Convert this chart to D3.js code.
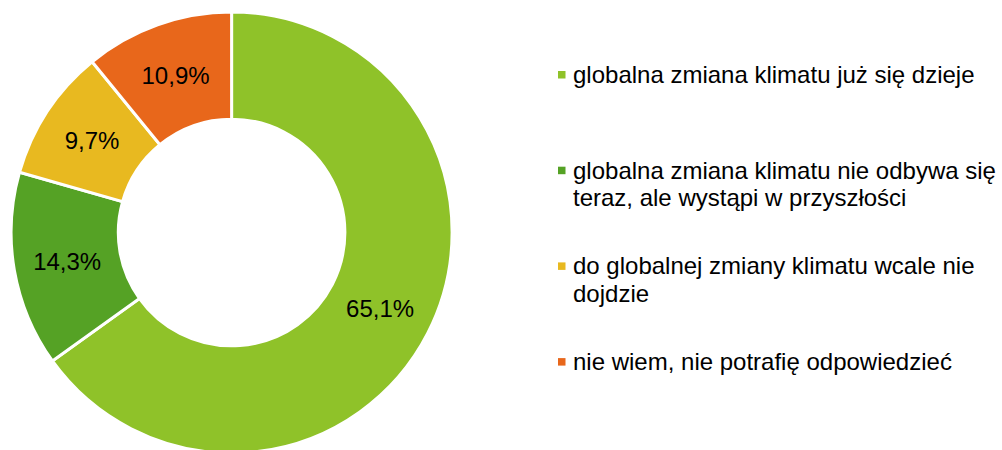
<!DOCTYPE html>
<html>
<head>
<meta charset="utf-8">
<script src="https://cdn.jsdelivr.net/npm/d3@7"></script>
<style>
  html, body { margin: 0; padding: 0; background: #fff; }
  svg { display: block; }
  text { font-family: "Liberation Sans", Arial, sans-serif; fill: #000; }
</style>
</head>
<body>
<div id="chart"></div>
<script>
// --- Data ---
const categories = [
    "globalna zmiana klimatu już się dzieje",
    "globalna zmiana klimatu nie odbywa się teraz, ale wystąpi w przyszłości",
    "do globalnej zmiany klimatu wcale nie dojdzie",
    "nie wiem, nie potrafię odpowiedzieć"
];
const values = [65.1, 14.3, 9.7, 10.9];
const colors = ["#8fc229", "#55a225", "#e8b920", "#e8671b"];

const width = 1002, height = 450;
const cx = 231.6, cy = 232.5;
const outerR = 220.5, innerR = 113.3;

const svg = d3.select("#chart").append("svg")
    .attr("width", width)
    .attr("height", height);

// --- Donut ---
const pie = d3.pie().sort(null).value(d => d)(values);
const arc = d3.arc().innerRadius(innerR).outerRadius(outerR);

const g = svg.append("g").attr("transform", `translate(${cx},${cy})`);

g.selectAll("path.slice")
    .data(pie)
    .enter().append("path")
    .attr("class", "slice")
    .attr("d", arc)
    .attr("fill", (d, i) => colors[i])
    .attr("stroke", "#fff")
    .attr("stroke-width", 3)
    .attr("stroke-linejoin", "miter");

const fmt = v => d3.format(".1f")(v).replace(".", ",") + "%";

g.selectAll("text.lbl")
    .data(pie)
    .enter().append("text")
    .attr("class", "lbl")
    .attr("transform", d => `translate(${arc.centroid(d)})`)
    .attr("text-anchor", "middle")
    .attr("dy", "0.35em")
    .style("font-size", "24px")
    .text(d => fmt(d.data));

// --- Legend ---
const legendX = 573, legendY0 = 83, itemStep = 95.7, lineH = 27.6, wrapW = 432;

const legend = svg.append("g").attr("class", "legend");

categories.forEach((cat, i) => {
    const y = legendY0 + i * itemStep;
    legend.append("rect")
        .attr("x", 558)
        .attr("y", y - 12)
        .attr("width", 7.5)
        .attr("height", 7.5)
        .attr("fill", colors[i]);

    const t = legend.append("text")
        .attr("x", legendX)
        .attr("y", y)
        .style("font-size", "24px");

    // simple word wrap
    const words = cat.split(" ");
    let line = [];
    let tspan = t.append("tspan").attr("x", legendX).attr("dy", 0);
    words.forEach(w => {
        line.push(w);
        tspan.text(line.join(" "));
        if (tspan.node().getComputedTextLength() > wrapW && line.length > 1) {
            line.pop();
            tspan.text(line.join(" "));
            line = [w];
            tspan = t.append("tspan").attr("x", legendX).attr("dy", lineH).text(w);
        }
    });
});
</script>
</body>
</html>
